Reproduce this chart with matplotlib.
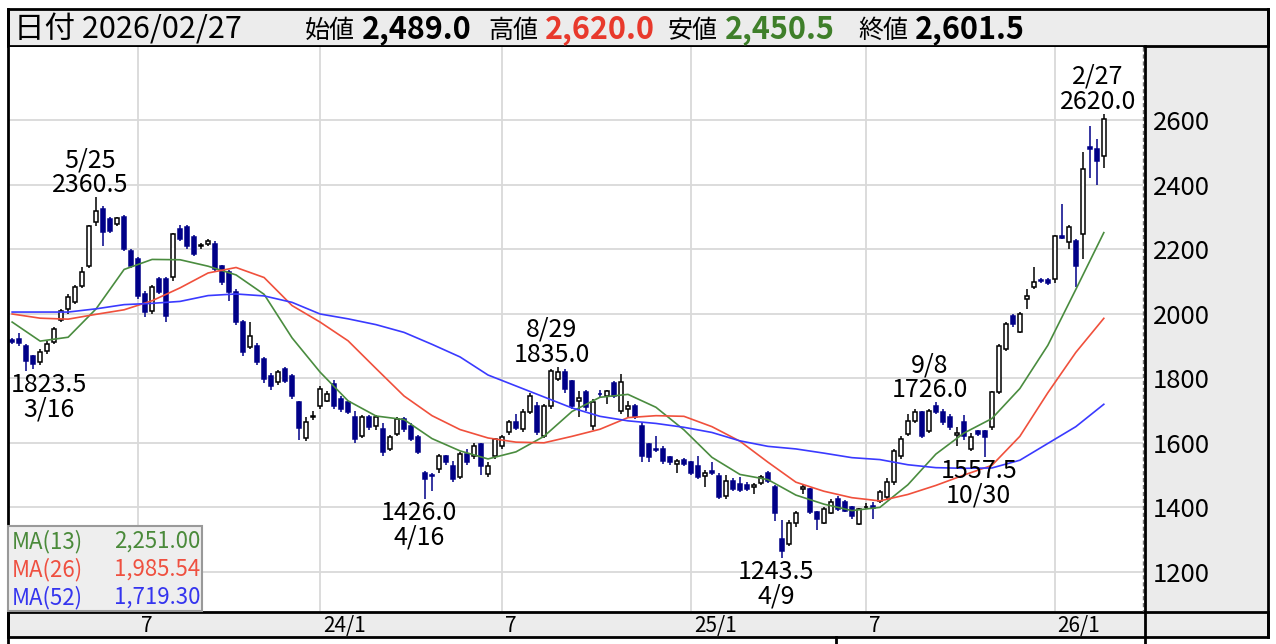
import numpy as np
import pandas as pd
import matplotlib
matplotlib.use('Agg')
import matplotlib.pyplot as plt
from matplotlib.patches import Rectangle
from matplotlib.lines import Line2D
from matplotlib.transforms import blended_transform_factory

plt.rcParams['font.family'] = ['Noto Sans CJK JP', 'DejaVu Sans']

# weekly candles, first week starts 2023-02-27
first_week = '2023-02-27'
opens = [1918, 1920, 1899, 1868, 1850, 1884, 1912, 1980, 2014, 2036, 2085, 2147, 2284, 2324, 2293, 2277,
         2299, 2194, 2169, 2060, 2008, 2107, 2107, 2113, 2262, 2268, 2237, 2209, 2215, 2215, 2147, 2129,
         2067, 1974, 1896, 1899, 1859, 1806, 1788, 1828, 1806, 1725, 1615, 1680, 1713, 1729, 1781, 1735,
         1725, 1679, 1620, 1679, 1651, 1642, 1580, 1626, 1673, 1651, 1617, 1508, 1500, 1518, 1558, 1527,
         1493, 1564, 1558, 1595, 1502, 1558, 1589, 1633, 1664, 1642, 1695, 1713, 1620, 1713, 1797, 1819,
         1791, 1730, 1757, 1651, 1752, 1744, 1785, 1698, 1704, 1713, 1651, 1595, 1582, 1580, 1555, 1533,
         1548, 1539, 1527, 1496, 1512, 1496, 1434, 1481, 1472, 1470, 1462, 1477, 1508, 1462, 1301, 1285,
         1353, 1456, 1456, 1387, 1353, 1384, 1425, 1418, 1400, 1348, 1400, 1405, 1419, 1431, 1478, 1558,
         1626, 1667, 1695, 1636, 1713, 1695, 1679, 1625, 1664, 1580, 1636, 1636, 1648, 1757, 1890, 1992,
         1943, 2045, 2082, 2105, 2105, 2107, 2242, 2222, 2225, 2246, 2516, 2510, 2489.0]
highs = [1925, 1940, 1905, 1872, 1890, 1915, 1958, 2015, 2060, 2090, 2145, 2275, 2360.5, 2335, 2300, 2300,
         2305, 2200, 2175, 2070, 2090, 2115, 2115, 2250, 2275, 2275, 2245, 2220, 2232, 2225, 2150, 2135,
         2075, 1980, 1975, 1910, 1865, 1815, 1825, 1835, 1812, 1730, 1680, 1700, 1775, 1760, 1795, 1745,
         1730, 1700, 1685, 1685, 1685, 1660, 1625, 1680, 1680, 1660, 1625, 1512, 1505, 1565, 1562, 1545,
         1570, 1580, 1600, 1600, 1540, 1615, 1625, 1670, 1690, 1705, 1755, 1725, 1720, 1830, 1835.0, 1830,
         1795, 1760, 1765, 1735, 1765, 1765, 1790, 1812, 1730, 1720, 1665, 1600, 1620, 1590, 1560, 1550,
         1552, 1545, 1560, 1515, 1540, 1505, 1500, 1490, 1495, 1480, 1475, 1500, 1512, 1470, 1360, 1360,
         1390, 1470, 1460, 1390, 1400, 1425, 1435, 1422, 1405, 1398, 1415, 1418, 1455, 1490, 1580, 1620,
         1690, 1705, 1700, 1705, 1726.0, 1705, 1690, 1650, 1685, 1630, 1640, 1640, 1760, 1905, 1975, 2000,
         2005, 2075, 2145, 2110, 2110, 2245, 2340, 2275, 2230, 2500, 2580, 2540, 2620.0]
lows = [1905, 1900, 1823.5, 1828, 1840, 1875, 1905, 1975, 2000, 2030, 2080, 2140, 2270, 2209, 2250, 2270,
        2195, 2140, 2045, 1989, 2000, 2060, 1975, 2100, 2225, 2200, 2180, 2200, 2210, 2130, 2090, 2040,
        1965, 1870, 1890, 1840, 1785, 1765, 1780, 1785, 1735, 1610, 1605, 1670, 1705, 1725, 1705, 1695,
        1690, 1600, 1615, 1640, 1640, 1560, 1575, 1620, 1635, 1605, 1565, 1426.0, 1450, 1505, 1530, 1480,
        1488, 1530, 1550, 1500, 1495, 1550, 1580, 1625, 1640, 1635, 1690, 1625, 1615, 1705, 1790, 1755,
        1705, 1680, 1700, 1640, 1740, 1720, 1740, 1690, 1680, 1675, 1540, 1540, 1570, 1535, 1530, 1505,
        1528, 1500, 1488, 1462, 1500, 1425, 1425, 1450, 1448, 1450, 1440, 1470, 1475, 1357, 1243.5, 1280,
        1340, 1440, 1380, 1330, 1350, 1380, 1390, 1385, 1365, 1345, 1395, 1365, 1415, 1425, 1470, 1550,
        1620, 1660, 1615, 1630, 1690, 1655, 1640, 1590, 1610, 1575, 1620, 1557.5, 1640, 1750, 1885, 1960,
        1940, 2015, 2075, 2095, 2090, 2095, 2230, 2200, 2082, 2170, 2420, 2400, 2450.5]
closes = [1912, 1908, 1853, 1845, 1880, 1905, 1952, 2008, 2051, 2082, 2129, 2271, 2318, 2253, 2256, 2296,
          2200, 2147, 2054, 2005, 2082, 2067, 1992, 2246, 2231, 2209, 2184, 2212, 2225, 2138, 2098, 2067,
          1974, 1880, 1930, 1850, 1797, 1775, 1819, 1791, 1744, 1645, 1665, 1684, 1766, 1750, 1713, 1704,
          1694, 1611, 1679, 1648, 1679, 1571, 1617, 1673, 1642, 1611, 1571, 1487, 1497, 1558, 1539, 1487,
          1564, 1539, 1589, 1527, 1527, 1611, 1617, 1664, 1645, 1695, 1744, 1633, 1713, 1822, 1819, 1766,
          1713, 1740, 1710, 1725, 1750, 1760, 1745, 1788, 1713, 1679, 1558, 1555, 1578, 1543, 1539, 1543,
          1533, 1508, 1493, 1508, 1505, 1431, 1481, 1456, 1453, 1456, 1468, 1493, 1481, 1384, 1264, 1353,
          1384, 1462, 1387, 1363, 1394, 1418, 1394, 1390, 1372, 1394, 1402, 1398, 1447, 1478, 1574, 1611,
          1667, 1695, 1620, 1698, 1695, 1664, 1648, 1630, 1620, 1617, 1628, 1617, 1757, 1899, 1967, 1967,
          1998, 2054, 2098, 2100, 2095, 2240, 2235, 2268, 2147, 2448, 2510, 2473, 2601.5]

ma_every = 4
ma13 = [1974, 1915, 1927, 2015, 2137, 2168, 2167, 2147, 2120, 2060, 1925, 1819, 1730, 1683, 1672, 1613,
        1575, 1550, 1572, 1620, 1697, 1741, 1750, 1710, 1640, 1555, 1502, 1486, 1438, 1410, 1390, 1400,
        1470, 1565, 1630, 1675, 1768, 1902, 2075, 2251.00]
ma26 = [1999, 1986, 1983, 1998, 2012, 2040, 2080, 2126, 2143, 2112, 2025, 1974, 1916, 1830, 1745, 1684,
        1641, 1615, 1602, 1600, 1620, 1642, 1678, 1684, 1682, 1650, 1605, 1540, 1478, 1450, 1430, 1420,
        1440, 1468, 1500, 1530, 1620, 1755, 1880, 1985.54]
ma52 = [2005, 2005, 2005, 2015, 2028, 2032, 2038, 2056, 2061, 2055, 2035, 1999, 1984, 1966, 1942, 1905,
        1866, 1810, 1776, 1742, 1708, 1682, 1668, 1660, 1648, 1632, 1606, 1589, 1581, 1568, 1554, 1548,
        1532, 1523, 1521, 1522, 1546, 1598, 1650, 1719.30]

tick_weeks = ['2023-07-03', '2024-01-01', '2024-07-01', '2025-01-06', '2025-06-30', '2026-01-05']
tick_labels = ['7', '24/1', '7', '25/1', '7', '26/1']

# (week index, high/low, date text)
marks = [(2, 'low', '3/16'), (12, 'high', '5/25'), (59, 'low', '4/16'), (78, 'high', '8/29'),
         (110, 'low', '4/9'), (132, 'high', '9/8'), (139, 'low', '10/30'), (156, 'high', '2/27')]

W, H = 1276, 644


def fx(px):
    return px / W


def fy(py):
    return 1 - py / H


def main():
    n = len(closes)
    weeks = pd.date_range(first_week, periods=n, freq='W-MON')
    idx = np.arange(n)
    o, h, l, c = map(np.array, (opens, highs, lows, closes))
    up = c >= o

    fig = plt.figure(figsize=(W / 100, H / 100), dpi=100)
    ax = fig.add_axes([fx(9), fy(611), fx(1143) - fx(9), fy(47) - fy(611)])
    ax.set_xlim(-0.45, 161.6)
    ax.set_ylim(1079, 2826)
    for s in ax.spines.values():
        s.set_visible(False)

    tick_idx = [weeks.get_loc(pd.Timestamp(d)) for d in tick_weeks]
    ax.set_xticks(tick_idx)
    ax.set_yticks(np.arange(1200, 2601, 200))
    ax.grid(color='#d9d9d9', lw=1.3)
    ax.set_axisbelow(True)
    ax.tick_params(axis='x', length=0, labelbottom=False)
    ax.yaxis.tick_right()
    ax.tick_params(axis='y', length=0, pad=7, labelsize=18.5)

    # candles
    navy = '#000088'
    ax.vlines(idx, l, h, colors=np.where(up, 'black', navy), lw=1.1, zorder=2)
    ax.bar(idx, np.abs(c - o), bottom=np.minimum(o, c), width=0.58,
           color=np.where(up, 'white', navy), edgecolor=np.where(up, 'black', navy),
           lw=1.1, zorder=3)

    # moving averages
    ma_x = idx[::ma_every]
    ax.plot(ma_x, ma13, color='#4a8c3f', lw=1.2, zorder=4)
    ax.plot(ma_x, ma26, color='#f0503c', lw=1.2, zorder=4)
    ax.plot(ma_x, ma52, color='#3a3aff', lw=1.2, zorder=4)

    # high / low marks
    for i, kind, lab in marks:
        dx = 23 if i < 5 else -6
        if kind == 'high':
            price, d1, d2 = highs[i], 5, 30
        else:
            price, d1, d2 = lows[i], -21, -46
        ax.annotate(f'{price:.1f}', xy=(i, price), xytext=(dx, d1), textcoords='offset pixels',
                    ha='center', va='baseline', fontsize=18, zorder=6)
        ax.annotate(lab, xy=(i, price), xytext=(dx, d2), textcoords='offset pixels',
                    ha='center', va='baseline', fontsize=18, zorder=6)

    # frame pieces
    fig.patches.append(Rectangle((fx(1145), fy(611)), fx(1268) - fx(1145), fy(46) - fy(611),
                                 transform=fig.transFigure, fc='#ebebeb', ec='none', zorder=-2))
    fig.patches.append(Rectangle((fx(8), fy(46)), fx(1268) - fx(8), fy(9) - fy(46),
                                 transform=fig.transFigure, fc='#ececec', ec='black', lw=2,
                                 zorder=-1))
    fig.patches.append(Rectangle((fx(8), fy(637)), fx(1268) - fx(8), fy(612) - fy(637),
                                 transform=fig.transFigure, fc='#ececec', ec='black', lw=2,
                                 zorder=-1))
    fig.lines.append(Line2D([fx(1143)] * 2, [fy(47), fy(611)], transform=fig.transFigure,
                            color='#777777', lw=1, ls=(0, (3, 2))))
    for xp, y0, y1 in [(8, 9, 644), (1145, 46, 644), (1268, 9, 637), (836, 637, 644)]:
        fig.lines.append(Line2D([fx(xp)] * 2, [fy(y0), fy(y1)], transform=fig.transFigure,
                                color='black', lw=2))

    # date labels
    tr = blended_transform_factory(ax.transData, fig.transFigure)
    for t, lab in zip(tick_idx, tick_labels):
        ax.text(t + 0.4, fy(632), lab, transform=tr, fontsize=15, ha='left', va='baseline',
                zorder=7)

    # header
    last_day = (weeks[-1] + pd.Timedelta(days=4)).strftime('%Y/%m/%d')
    fig.text(fx(14), fy(38), f'日付 {last_day}', fontsize=22, va='baseline')
    header = [('始値', opens[-1], 'black', 305), ('高値', highs[-1], '#e8392c', 488),
              ('安値', lows[-1], '#3f7f2a', 668), ('終値', closes[-1], 'black', 858)]
    for name, val, col, xp in header:
        fig.text(fx(xp), fy(38), name, fontsize=18, va='baseline')
        fig.text(fx(xp + 57), fy(38), f'{val:,.1f}', fontsize=22, fontweight='bold',
                 color=col, va='baseline')

    # MA legend box
    fig.patches.append(Rectangle((fx(8), fy(611)), fx(202) - fx(8), fy(526) - fy(611),
                                 transform=fig.transFigure, fc='#eeeeee', ec='#999999',
                                 lw=1.5, zorder=5))
    legend = [('MA(13)', ma13[-1], '#4a8a3a'), ('MA(26)', ma26[-1], '#ef5040'),
              ('MA(52)', ma52[-1], '#3535ee')]
    for k, (name, val, col) in enumerate(legend):
        yb = fy(548 + 28 * k)
        fig.text(fx(12), yb, name, fontsize=16, color=col, va='baseline', zorder=6)
        fig.text(fx(200), yb, f'{val:,.2f}', fontsize=16, color=col, ha='right',
                 va='baseline', zorder=6)

    fig.savefig('out.png', dpi=100)


if __name__ == '__main__':
    main()
